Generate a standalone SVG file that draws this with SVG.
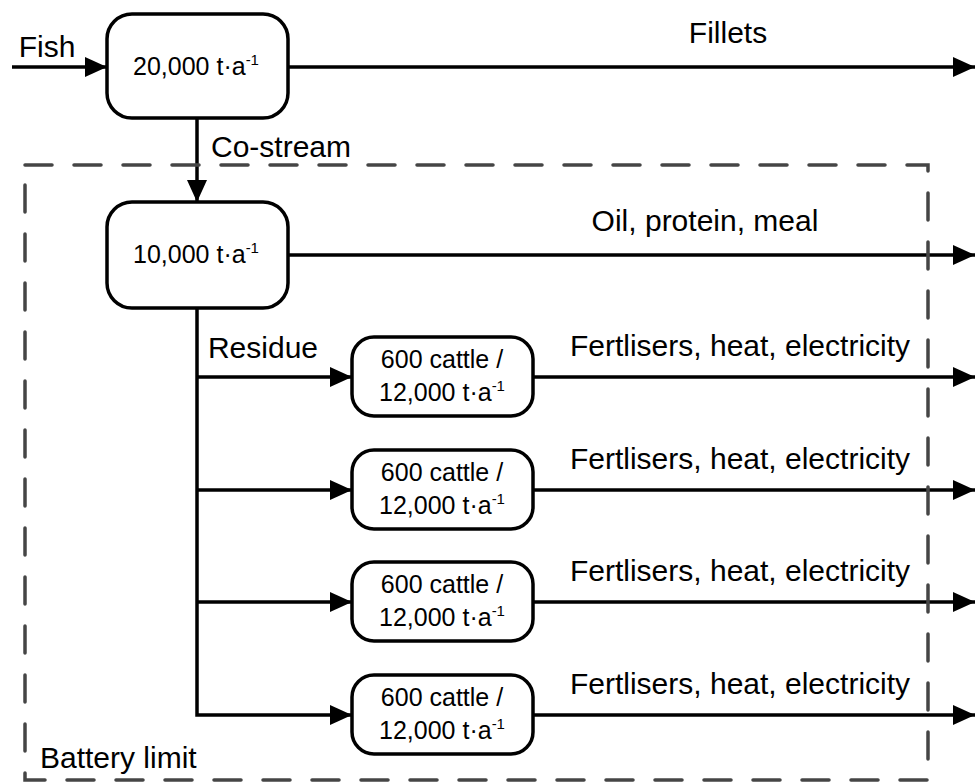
<svg xmlns="http://www.w3.org/2000/svg" width="977" height="782" viewBox="0 0 977 782">
<style>
.node{fill:#fff;stroke:#000;stroke-width:3.5}
.conn{fill:none;stroke:#000;stroke-width:3.5}
.lbl{font-family:"Liberation Sans",Arial,sans-serif;font-size:30px;fill:#000}
.nt{font-family:"Liberation Sans",Arial,sans-serif;font-size:25px;fill:#000;text-anchor:middle}
.sup{font-size:15px}
.limit{fill:none;stroke:#454545;stroke-width:3.5;stroke-dasharray:27 22;stroke-linecap:round}
</style>
<defs>
<marker id="ah" viewBox="0 0 22 20" refX="22" refY="10" markerWidth="22" markerHeight="20" markerUnits="userSpaceOnUse" orient="auto">
<path d="M0,0 L22,10 L0,20 Z" fill="#000"/>
</marker>
</defs>
<rect width="977" height="782" fill="#fff"/>
<g id="connectors">
<line class="conn" x1="12" y1="67" x2="107" y2="67" marker-end="url(#ah)"/>
<line class="conn" x1="288" y1="67" x2="975" y2="67" marker-end="url(#ah)"/>
<line class="conn" x1="197" y1="118" x2="197" y2="202" marker-end="url(#ah)"/>
<line class="conn" x1="288" y1="255" x2="975" y2="255" marker-end="url(#ah)"/>
<polyline class="conn" points="197,308 197,715 352,715" marker-end="url(#ah)"/>
<line class="conn" x1="197" y1="377" x2="352" y2="377" marker-end="url(#ah)"/>
<line class="conn" x1="197" y1="490" x2="352" y2="490" marker-end="url(#ah)"/>
<line class="conn" x1="197" y1="602" x2="352" y2="602" marker-end="url(#ah)"/>
<line class="conn" x1="533" y1="377" x2="975" y2="377" marker-end="url(#ah)"/>
<line class="conn" x1="533" y1="490" x2="975" y2="490" marker-end="url(#ah)"/>
<line class="conn" x1="533" y1="602" x2="975" y2="602" marker-end="url(#ah)"/>
<line class="conn" x1="533" y1="715" x2="975" y2="715" marker-end="url(#ah)"/>
<text class="lbl" x="47" y="57" text-anchor="middle">Fish</text>
<text class="lbl" x="728" y="43" text-anchor="middle">Fillets</text>
<text class="lbl" x="211" y="157">Co-stream</text>
<text class="lbl" x="705" y="231" text-anchor="middle">Oil, protein, meal</text>
<text class="lbl" x="263" y="358" text-anchor="middle">Residue</text>
<text class="lbl" x="740" y="356" text-anchor="middle">Fertlisers, heat, electricity</text>
<text class="lbl" x="740" y="469" text-anchor="middle">Fertlisers, heat, electricity</text>
<text class="lbl" x="740" y="581" text-anchor="middle">Fertlisers, heat, electricity</text>
<text class="lbl" x="740" y="694" text-anchor="middle">Fertlisers, heat, electricity</text>
</g>
<g id="battery-limit">
<rect class="limit" x="25" y="165" width="903" height="615"/>
<text class="lbl" x="40" y="768">Battery limit</text>
</g>
<g id="node-fish">
<rect class="node" x="107" y="14" width="181" height="104" rx="25"/>
<text class="nt" x="196" y="75">20,000 t·a<tspan class="sup" dy="-10">-1</tspan></text>
</g>
<g id="node-costream">
<rect class="node" x="107" y="202" width="181" height="106" rx="25"/>
<text class="nt" x="196" y="263">10,000 t·a<tspan class="sup" dy="-10">-1</tspan></text>
</g>
<g id="node-digester-1">
<rect class="node" x="352" y="337" width="181" height="79" rx="22"/>
<text class="nt" x="442" y="368">600 cattle /</text>
<text class="nt" x="442" y="401">12,000 t·a<tspan class="sup" dy="-10">-1</tspan></text>
</g>
<g id="node-digester-2">
<rect class="node" x="352" y="450" width="181" height="79" rx="22"/>
<text class="nt" x="442" y="481">600 cattle /</text>
<text class="nt" x="442" y="514">12,000 t·a<tspan class="sup" dy="-10">-1</tspan></text>
</g>
<g id="node-digester-3">
<rect class="node" x="352" y="562" width="181" height="79" rx="22"/>
<text class="nt" x="442" y="593">600 cattle /</text>
<text class="nt" x="442" y="626">12,000 t·a<tspan class="sup" dy="-10">-1</tspan></text>
</g>
<g id="node-digester-4">
<rect class="node" x="352" y="675" width="181" height="79" rx="22"/>
<text class="nt" x="442" y="706">600 cattle /</text>
<text class="nt" x="442" y="739">12,000 t·a<tspan class="sup" dy="-10">-1</tspan></text>
</g>
</svg>
